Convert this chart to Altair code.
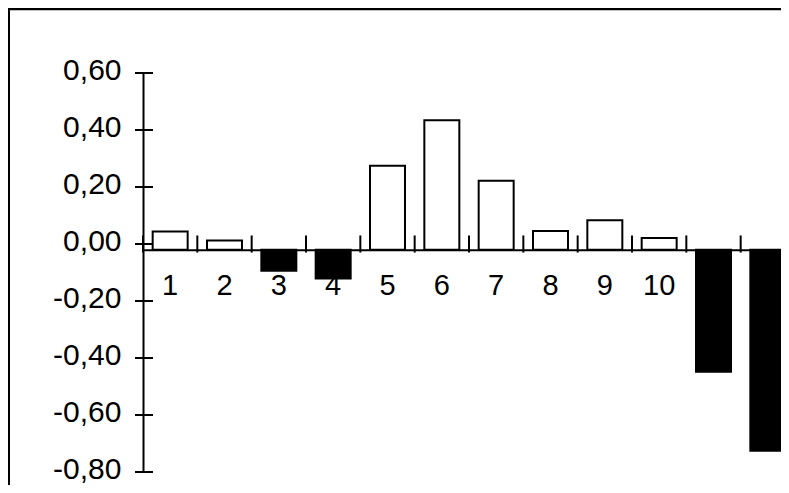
import altair as alt
import pandas as pd

# ---- data ----
categories = [str(i) for i in range(1, 13)]
values = [0.044, 0.012, -0.094, -0.121, 0.275, 0.434, 0.222, 0.046, 0.083, 0.021, -0.448, -0.725]
y_ticks = [-0.8, -0.6, -0.4, -0.2, 0.0, 0.2, 0.4, 0.6]
crossing = -0.02  # value where the category axis crosses
hidden_labels = ["11", "12"]  # covered by the long negative bars in the reference

df = pd.DataFrame({"cat": categories, "value": values})
ticks_df = pd.DataFrame({"value": y_ticks})
one = pd.DataFrame({"a": [0]})

FONT = "Liberation Sans"
FS_Y = 30
FS_X = 29

RANGE_W = 652
P_IN = 0.356
P_OUT = P_IN / 2
step = RANGE_W / len(categories)

xscale = alt.Scale(domain=categories, range=[0, RANGE_W], paddingInner=P_IN, paddingOuter=P_OUT)
yscale = alt.Scale(domain=[-0.8, 0.6], nice=False, zero=False)

y_label_expr = "replace(replace(format(datum.value, '.2f'), '.', ','), '\u2212', '-')"
x_label_expr = "indexof(" + str(hidden_labels).replace("'", '"') + ", datum.label) >= 0 ? '' : datum.label"

x_axis = alt.Axis(
    title=None, orient="bottom", offset=-222.3, domain=True,
    domainColor="black", domainWidth=2, ticks=False, tickSize=0,
    labelAngle=0, labelFont=FONT, labelFontSize=FS_X, labelColor="black",
    labelBaseline="alphabetic", labelPadding=44.8, grid=False, zindex=0,
    labelExpr=x_label_expr,
)
y_axis = alt.Axis(
    title=None, values=y_ticks, labelExpr=y_label_expr, ticks=False,
    tickSize=0, domain=True, domainColor="black", domainWidth=2,
    labelPadding=22, labelOffset=-2.5, labelFont=FONT, labelFontSize=FS_Y,
    labelColor="black", grid=False, zindex=0,
)

bars = alt.Chart(df).mark_bar(stroke="black", strokeWidth=2).encode(
    x=alt.X("cat:O", scale=xscale, sort=categories, axis=x_axis),
    y=alt.Y("value:Q", scale=yscale, axis=y_axis),
    y2=alt.datum(crossing),
    fill=alt.condition("datum.value < 0", alt.value("black"), alt.value("white")),
)

ytick_layer = alt.Chart(ticks_df).mark_rule(color="black", strokeWidth=2).encode(
    y=alt.Y("value:Q", scale=yscale, axis=y_axis),
    x=alt.value(-8),
    x2=alt.value(10),
)

xtick_layer = alt.Chart(df).mark_rule(
    color="black", strokeWidth=2, xOffset=-P_OUT * step
).encode(
    x=alt.X("cat:O", scale=xscale, sort=categories, bandPosition=0, axis=x_axis),
    y=alt.datum(0.03),
    y2=alt.datum(-0.03),
)

frame_top = alt.Chart(one).mark_rule(color="black", strokeWidth=2.5).encode(
    x=alt.value(-136), x2=alt.value(700), y=alt.value(-64)
)
frame_left = alt.Chart(one).mark_rule(color="black", strokeWidth=2).encode(
    x=alt.value(-134), y=alt.value(-66), y2=alt.value(420)
)

chart = alt.layer(frame_top, frame_left, bars, xtick_layer, ytick_layer).properties(
    width=638,
    height=399,
    autosize=alt.AutoSizeParams(type="none"),
    padding={"left": 135, "top": 65, "right": 0, "bottom": 13},
    background="white",
).configure_view(stroke=None)

chart.save("out.html", embed_options={"renderer": "svg", "actions": False})
